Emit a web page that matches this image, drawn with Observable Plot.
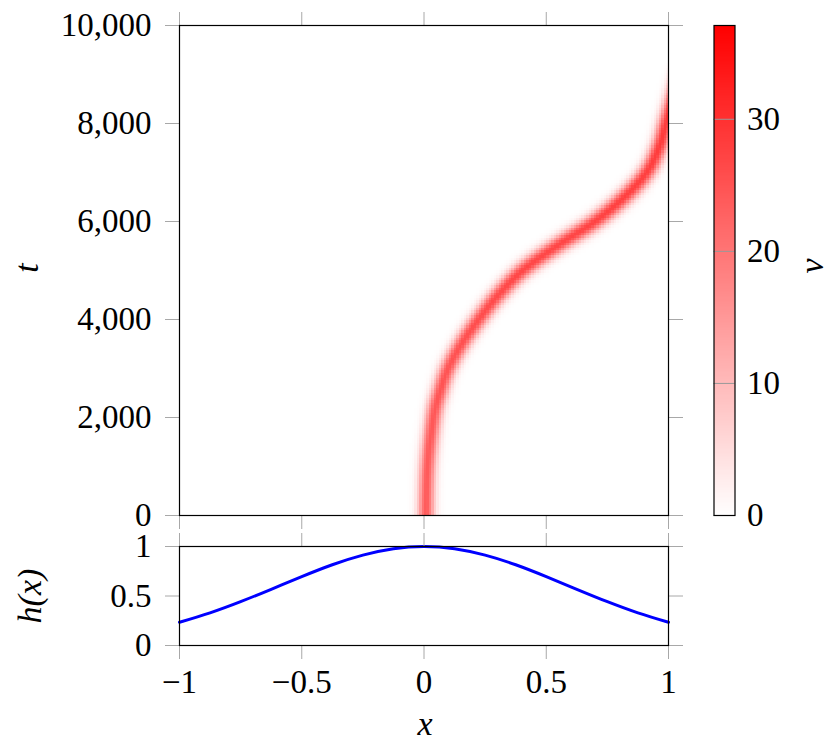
<!DOCTYPE html>
<html><head><meta charset="utf-8">
<script src="https://cdn.jsdelivr.net/npm/d3@7"></script>
<script src="https://cdn.jsdelivr.net/npm/@observablehq/plot@0.6"></script>
<style>
body{margin:0;background:#fff;}
#fig{position:relative;width:830px;height:746px;font-family:"Liberation Serif","DejaVu Serif",serif;overflow:hidden;}
#fig svg{position:absolute;overflow:visible;}
#fig svg text{font-family:"Liberation Serif","DejaVu Serif",serif;}
.lab{position:absolute;font-family:"Liberation Serif","DejaVu Serif",serif;font-style:italic;font-size:34px;line-height:1;white-space:nowrap;color:#000;}
</style></head><body><div id="fig"></div>
<script>
// ---- data ----
const pathT   = [0, 1000, 2000, 2500, 3000, 3500, 4000, 4500, 5000, 5500, 6000, 6500, 7000, 7500, 8000, 8500, 9000];
const pathX   = [0.008, 0.015, 0.04, 0.065, 0.10, 0.155, 0.225, 0.305, 0.405, 0.545, 0.70, 0.82, 0.91, 0.96, 0.99, 1.02, 1.05];
const pathAmp = [24, 24, 24.5, 25, 25, 25.5, 26, 26.5, 27, 27, 27.5, 28, 28, 28.5, 28.5, 29, 29];
const hX = [-1, -0.875, -0.75, -0.625, -0.5, -0.375, -0.25, -0.125, 0, 0.125, 0.25, 0.375, 0.5, 0.625, 0.75, 0.875, 1];
const hY = [0.235, 0.33, 0.443, 0.568, 0.696, 0.816, 0.913, 0.978, 1, 0.978, 0.913, 0.816, 0.696, 0.568, 0.443, 0.33, 0.235];
const xTicks = [-1, -0.5, 0, 0.5, 1];
const tTicks = [0, 2000, 4000, 6000, 8000, 10000];
const hTicks = [0, 0.5, 1];
const vTicks = [0, 10, 20, 30];
const vMax = 37.1;

// ---- rendering ----
const fig = document.getElementById("fig");
const grey = "#a8a8a8";
const FONT = "'Liberation Serif', 'DejaVu Serif', serif";
const FS = "33px";
const colorSpec = {type: "linear", domain: [0, vMax], range: ["#ffffff", "#ff0000"], interpolate: "rgb"};
const minusFmt = d => (d < 0 ? "\u2212" + Math.abs(d) : String(d));

// band: intensity falls off with distance (in plot pixels) from the read centre line
const PW = 489, PH = 490;
const pts = pathT.map((t, i) => [(pathX[i] + 1) / 2 * PW, t / 10000 * PH, pathAmp[i]]);
const dense = [];
for (let i = 0; i < pts.length - 1; i++) {
  const p0 = pts[Math.max(i - 1, 0)], p1 = pts[i], p2 = pts[i + 1], p3 = pts[Math.min(i + 2, pts.length - 1)];
  for (let k = 0; k < 40; k++) {
    const u = k / 40, u2 = u * u, u3 = u2 * u;
    const f = j => 0.5 * (2 * p1[j] + (-p0[j] + p2[j]) * u + (2 * p0[j] - 5 * p1[j] + 4 * p2[j] - p3[j]) * u2 + (-p0[j] + 3 * p1[j] - 3 * p2[j] + p3[j]) * u3);
    dense.push([f(0), f(1), p1[2] + (p2[2] - p1[2]) * u]);
  }
}
dense.push(pts[pts.length - 1]);
const sig = 5.8;
function field(x, t) {
  const px = (x + 1) / 2 * PW, py = t / 10000 * PH;
  let best = Infinity, amp = 0;
  for (const d of dense) {
    const dx = d[0] - px, dy = d[1] - py, q = dx * dx + dy * dy;
    if (q < best) { best = q; amp = d[2]; }
  }
  return amp * Math.exp(-best / (2 * sig * sig));
}

function place(svg, left, top) {
  svg.style.left = left + "px";
  svg.style.top = top + "px";
  fig.appendChild(svg);
}
const baseStyle = {fontFamily: FONT, fontSize: FS, background: "transparent", overflow: "visible", color: "black"};

// top panel
const topPlot = Plot.plot({
  width: 830, height: 530, marginLeft: 179, marginRight: 162, marginTop: 25, marginBottom: 15,
  style: baseStyle,
  x: {domain: [-1, 1]}, y: {domain: [0, 10000]},
  color: colorSpec,
  marks: [
    Plot.raster({fill: field, x1: -1, x2: 1, y1: 0, y2: 10000, width: 196, height: 196, imageRendering: "pixelated"}),
    Plot.axisY(tTicks, {anchor: "left", tickSize: 14, tickPadding: 14, stroke: grey, fill: "black", tickFormat: d3.format(","), label: null}),
    Plot.axisY(tTicks, {anchor: "right", tickSize: 14, stroke: grey, tickFormat: () => "", label: null}),
    Plot.axisX(xTicks, {anchor: "top", tickSize: 14, stroke: grey, tickFormat: () => "", label: null}),
    Plot.axisX(xTicks, {anchor: "bottom", tickSize: 14, stroke: grey, tickFormat: () => "", label: null}),
    Plot.frame({stroke: "black", strokeWidth: 1.2})
  ]
});
place(topPlot, 0, 0);

// bottom panel
const hData = hX.map((x, i) => ({x, h: hY[i]}));
const botPlot = Plot.plot({
  width: 830, height: 210, marginLeft: 179, marginRight: 162, marginTop: 10, marginBottom: 101,
  style: baseStyle,
  x: {domain: [-1, 1]}, y: {domain: [0, 1]},
  marks: [
    Plot.line(hData, {x: "x", y: "h", stroke: "#0000ff", strokeWidth: 3, curve: "natural"}),
    Plot.axisY(hTicks, {anchor: "left", tickSize: 14, tickPadding: 14, stroke: grey, fill: "black", tickFormat: minusFmt, label: null}),
    Plot.axisY(hTicks, {anchor: "right", tickSize: 14, stroke: grey, tickFormat: () => "", label: null}),
    Plot.axisX(xTicks, {anchor: "top", tickSize: 14, stroke: grey, tickFormat: () => "", label: null}),
    Plot.axisX(xTicks, {anchor: "bottom", tickSize: 14, tickPadding: 10, stroke: grey, fill: "black", tickFormat: minusFmt, label: null}),
    Plot.frame({stroke: "black", strokeWidth: 1.2})
  ]
});
place(botPlot, 0, 536);

// colour bar
const cbPlot = Plot.plot({
  width: 130, height: 530, marginLeft: 13.5, marginRight: 95.5, marginTop: 25, marginBottom: 15,
  style: baseStyle,
  x: {domain: [0, 1], axis: null}, y: {domain: [0, vMax]},
  color: colorSpec,
  marks: [
    Plot.raster({fill: (x, y) => y, x1: 0, x2: 1, y1: 0, y2: vMax, width: 1, height: 300}),
    Plot.ruleY(vTicks, {stroke: "#999", strokeWidth: 1}),
    Plot.axisY(vTicks, {anchor: "right", tickSize: 0, tickPadding: 12, fill: "black", tickFormat: d => String(d), label: null}),
    Plot.frame({stroke: "black", strokeWidth: 1.2})
  ]
});
place(cbPlot, 700, 0);

// axis labels
function label(text, cx, cy, rot) {
  const d = document.createElement("div");
  d.className = "lab";
  d.textContent = text;
  d.style.left = cx + "px";
  d.style.top = cy + "px";
  d.style.transform = "translate(-50%,-50%)" + (rot ? " rotate(" + rot + "deg)" : "");
  fig.appendChild(d);
}
label("t", 27, 268, -90);
label("h(x)", 30, 596, -90);
label("x", 425, 724, 0);
label("v", 812, 266, -90);
</script>
</body></html>
